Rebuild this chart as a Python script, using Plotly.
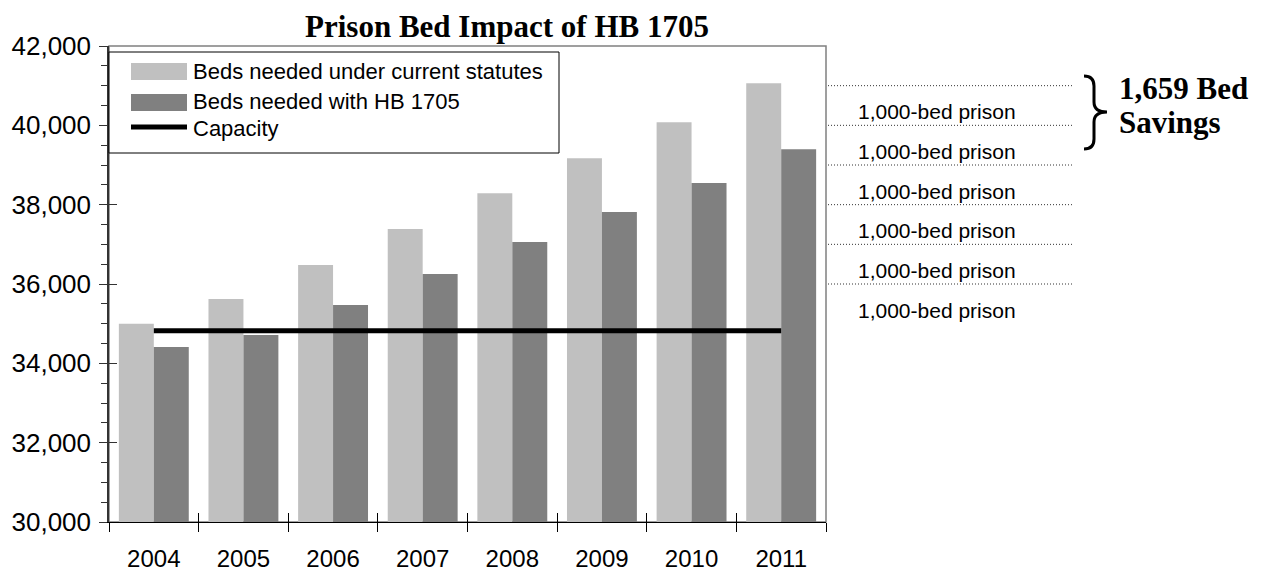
import plotly.graph_objects as go

# ---- data ----
years = ["2004", "2005", "2006", "2007", "2008", "2009", "2010", "2011"]
beds_current = [35000, 35620, 36480, 37385, 38290, 39170, 40080, 41059]
beds_hb1705 = [34410, 34714, 35470, 36250, 37060, 37815, 38545, 39400]
capacity = [34820] * len(years)
prison_lines = [41000, 40000, 39000, 38000, 37000, 36000]
prison_labels = [40000, 39000, 38000, 37000, 36000, 35000]
y_ticks = [30000, 32000, 34000, 36000, 38000, 40000, 42000]

# page body has an 8px margin; size the figure so it fills the window
OFF = 8
W, H = 1265 - OFF, 573 - OFF
L, R, T, B = 109, 826, 46, 522  # plot area in window pixels


def px(x):
    return (x - L) / (R - L)


def py(y):
    return (B - y) / (B - T)


LIGHT = "#C0C0C0"
DARK = "#808080"
SANS = "Liberation Sans, Arial, sans-serif"
SERIF = "Liberation Serif, Times New Roman, serif"

fig = go.Figure()
fig.add_trace(go.Bar(x=years, y=beds_current, name="Beds needed under current statutes",
                     marker=dict(color=LIGHT, line=dict(width=0))))
fig.add_trace(go.Bar(x=years, y=beds_hb1705, name="Beds needed with HB 1705",
                     marker=dict(color=DARK, line=dict(width=0))))
fig.add_trace(go.Scatter(x=years, y=capacity, name="Capacity", mode="lines",
                         line=dict(color="black", width=5)))

shapes = []
annotations = []

# plot border (top / right gray)
shapes.append(dict(type="rect", xref="paper", yref="paper", x0=0, y0=0, x1=1, y1=1,
                   line=dict(color="#808080", width=1.5), layer="below"))

# custom legend
shapes.append(dict(type="rect", xref="paper", yref="paper", x0=px(109), x1=px(559),
                   y0=py(153), y1=py(52), line=dict(color="black", width=1),
                   fillcolor="white", layer="above"))
shapes.append(dict(type="rect", xref="paper", yref="paper", x0=px(131), x1=px(187),
                   y0=py(80), y1=py(63), line=dict(width=0), fillcolor=LIGHT, layer="above"))
shapes.append(dict(type="rect", xref="paper", yref="paper", x0=px(131), x1=px(187),
                   y0=py(111), y1=py(94), line=dict(width=0), fillcolor=DARK, layer="above"))
shapes.append(dict(type="line", xref="paper", yref="paper", x0=px(131), x1=px(187),
                   y0=py(127), y1=py(127), line=dict(color="black", width=5), layer="above"))
for txt, yc in [(fig.data[0].name, 71), (fig.data[1].name, 101), (fig.data[2].name, 128)]:
    annotations.append(dict(text=txt, xref="paper", yref="paper", x=px(191), y=py(yc),
                            xanchor="left", yanchor="middle", showarrow=False,
                            font=dict(family=SANS, size=22, color="black")))

# dotted 1,000-bed lines and labels
for v in prison_lines:
    shapes.append(dict(type="line", xref="paper", yref="y", x0=px(828), x1=px(1073),
                       y0=v, y1=v, line=dict(color="#333333", width=1, dash="1px,2px")))
for v in prison_labels:
    annotations.append(dict(text="1,000-bed prison", xref="paper", yref="y", x=px(937), y=v,
                            xanchor="center", yanchor="bottom", showarrow=False,
                            font=dict(family=SANS, size=21, color="black")))

# brace
pts = [(1084, 76), (1094, 76), (1094, 86), (1094, 102), (1094, 112), (1107, 112),
       (1094, 112), (1094, 122), (1094, 139), (1094, 149), (1084, 149)]
p = [(px(a), py(b)) for a, b in pts]
path = (f"M {p[0][0]},{p[0][1]} Q {p[1][0]},{p[1][1]} {p[2][0]},{p[2][1]} "
        f"L {p[3][0]},{p[3][1]} Q {p[4][0]},{p[4][1]} {p[5][0]},{p[5][1]} "
        f"Q {p[6][0]},{p[6][1]} {p[7][0]},{p[7][1]} L {p[8][0]},{p[8][1]} "
        f"Q {p[9][0]},{p[9][1]} {p[10][0]},{p[10][1]}")
shapes.append(dict(type="path", xref="paper", yref="paper", path=path,
                   line=dict(color="black", width=3)))
savings = beds_current[-1] - beds_hb1705[-1]
for txt, yc in [(f"<b>{savings:,} Bed</b>", 88), ("<b>Savings</b>", 123)]:
    annotations.append(dict(text=txt, xref="paper", yref="paper",
                            x=px(1117), y=py(yc), xanchor="left", yanchor="middle",
                            showarrow=False, font=dict(family=SERIF, size=31, color="black")))

fig.update_layout(
    width=W, height=H,
    margin=dict(l=L - OFF, r=W - (R - OFF), t=T - OFF, b=H - (B - OFF), pad=0,
                autoexpand=False),
    paper_bgcolor="white", plot_bgcolor="white",
    barmode="group", bargap=0.22, bargroupgap=0,
    showlegend=False,
    title=dict(text="<b>Prison Bed Impact of HB 1705</b>", x=(507 - OFF) / W, xanchor="center",
               y=1 - (26 - OFF) / H, yanchor="middle",
               font=dict(family=SERIF, size=31, color="black")),
    xaxis=dict(type="category", tickson="boundaries", ticks="outside", ticklen=9,
               tickcolor="black", showline=True, linecolor="black", linewidth=1,
               showgrid=False, tickfont=dict(family=SANS, size=24, color="black"),
               ticklabelstandoff=15, automargin=False),
    xaxis2=dict(overlaying="x", range=[-0.5, 7.5], tickvals=[i + 0.5 for i in range(-1, 8)],
                ticks="inside", ticklen=9, tickcolor="black", showticklabels=False,
                showgrid=False, zeroline=False, showline=False, side="bottom",
                automargin=False),
    yaxis=dict(range=[30000, 42000], tickvals=y_ticks, tickformat=",d", ticks="outside",
               ticklen=8, tickcolor="#333333", showline=True, linecolor="#333333", linewidth=1.5,
               showgrid=False, zeroline=False,
               minor=dict(dtick=500, ticks="outside", ticklen=6, tickcolor="#333333"),
               tickfont=dict(family=SANS, size=26, color="black"), ticklabelstandoff=3,
               automargin=False),
    yaxis2=dict(overlaying="y", range=[30000, 42000], tickvals=y_ticks, ticks="inside",
                ticklen=8, tickcolor="#333333", showticklabels=False, showgrid=False,
                zeroline=False, showline=False, side="left", automargin=False),
    shapes=shapes,
    annotations=annotations,
)
# invisible trace to activate overlay axes
fig.add_trace(go.Scatter(x=[0], y=[30000], xaxis="x2", yaxis="y2", mode="markers",
                         marker=dict(opacity=0), hoverinfo="skip", showlegend=False))

fig.write_html("out.html")
